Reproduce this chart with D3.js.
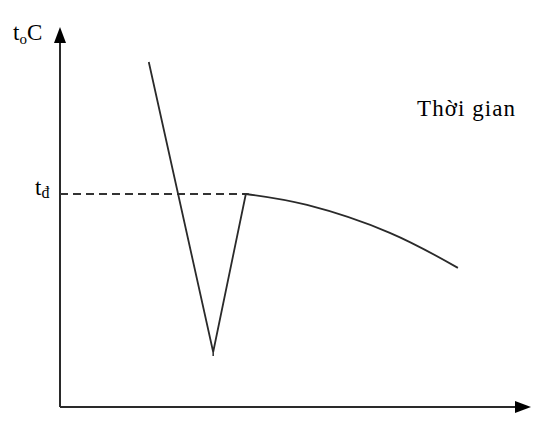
<!DOCTYPE html>
<html><head><meta charset="utf-8">
<script src="https://cdn.jsdelivr.net/npm/d3@7/dist/d3.min.js"></script>
<style>body{margin:0;background:#fff}svg{display:block}</style>
</head><body>
<script>
// Data (arbitrary units: time 0..100, temperature 0..100)
const coolTime  = [19.3, 33.3, 40.4];
const coolTemp  = [91.5, 14.6, 56.5];
const curveTime = [40.4, 53.7, 71.7, 86.5];
const curveTemp = [56.5, 53.6, 46.2, 36.9];
const tdTemp = 56.5;
const xLabel = "Thời gian";
const yLabel = ["t", "o", "C"];
const tdLabel = ["t", "đ"];

const W = 533, H = 426;
const x = d3.scaleLinear().domain([0, 100]).range([60, 520]);
const y = d3.scaleLinear().domain([0, 100]).range([407, 30]);

const svg = d3.select("body").append("svg").attr("width", W).attr("height", H);
const col = "#2a2a2a";

// axes
svg.append("line").attr("x1", x(0)).attr("y1", y(0)).attr("x2", x(0)).attr("y2", 40)
  .attr("stroke", col).attr("stroke-width", 2);
svg.append("line").attr("x1", x(0)).attr("y1", y(0)).attr("x2", 518).attr("y2", y(0))
  .attr("stroke", col).attr("stroke-width", 2);
// arrowheads
svg.append("path").attr("d", `M${x(0)},27 L${x(0)-6},43 L${x(0)+6},43 Z`).attr("fill", "#000");
svg.append("path").attr("d", `M531,${y(0)} L515,${y(0)-6} L515,${y(0)+6} Z`).attr("fill", "#000");

// dashed td line
svg.append("line").attr("x1", x(0)).attr("x2", x(coolTime[2])).attr("y1", y(tdTemp)).attr("y2", y(tdTemp))
  .attr("stroke", "#333").attr("stroke-width", 1.8).attr("stroke-dasharray", "8,5");

const line = d3.line().x(d => x(d[0])).y(d => y(d[1]));
svg.append("path").datum(coolTime.map((t, i) => [t, coolTemp[i]]))
  .attr("d", line).attr("fill", "none").attr("stroke", col).attr("stroke-width", 1.8);
svg.append("path").datum(curveTime.map((t, i) => [t, curveTemp[i]]))
  .attr("d", line.curve(d3.curveNatural)).attr("fill", "none").attr("stroke", col).attr("stroke-width", 1.8);

// small serifs at turning points
svg.append("line").attr("x1", x(coolTime[1])).attr("x2", x(coolTime[1]))
  .attr("y1", y(coolTemp[1])).attr("y2", y(coolTemp[1]) + 4).attr("stroke", col).attr("stroke-width", 1.5);
svg.append("line").attr("x1", x(coolTime[2]) - 3).attr("x2", x(coolTime[2]) + 3)
  .attr("y1", y(tdTemp)).attr("y2", y(tdTemp)).attr("stroke", col).attr("stroke-width", 1.5);

// labels
const font = "'Liberation Serif', 'Times New Roman', serif";
const yl = svg.append("text").attr("x", 13).attr("y", 40).attr("font-family", font).attr("font-size", 23).attr("fill", "#000");
yl.append("tspan").text(yLabel[0]);
yl.append("tspan").attr("dy", 4).attr("font-size", 15).text(yLabel[1]);
yl.append("tspan").attr("dy", -4).text(yLabel[2]);

const tl = svg.append("text").attr("x", 35).attr("y", 195).attr("font-family", font).attr("font-size", 23).attr("fill", "#000");
tl.append("tspan").text(tdLabel[0]);
tl.append("tspan").attr("dy", 3).attr("font-size", 16).text(tdLabel[1]);

svg.append("text").attr("x", 417).attr("y", 116).attr("font-family", font).attr("font-size", 23)
  .attr("fill", "#000").attr("textLength", 98).text(xLabel);
</script>
</body></html>
